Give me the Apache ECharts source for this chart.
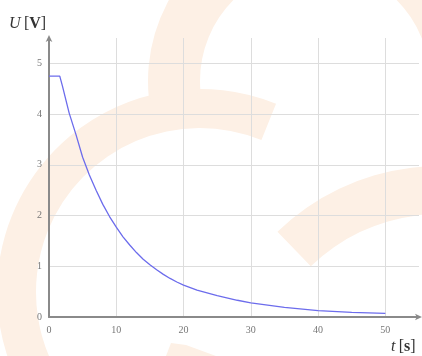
<!DOCTYPE html>
<html>
<head>
<meta charset="utf-8">
<script src="https://cdn.jsdelivr.net/npm/echarts@6/dist/echarts.min.js"></script>
<style>html,body{margin:0;padding:0;background:#fff}#c{width:422px;height:356px}</style>
</head>
<body>
<div id="c"></div>
<script>
// time values t [s]
var tValues = [0, 1.6, 2, 3, 4, 5, 6, 7, 8, 9, 10, 11, 12, 13, 14, 15, 16, 17, 18, 19, 20, 22, 25, 28, 30, 35, 40, 45, 50];
// voltage values U [V]
var uValues = [4.75, 4.75, 4.55, 4.02, 3.6, 3.15, 2.8, 2.5, 2.22, 1.98, 1.77, 1.58, 1.42, 1.27, 1.14, 1.03, 0.93, 0.84, 0.76, 0.69, 0.63, 0.53, 0.42, 0.33, 0.28, 0.19, 0.124, 0.09, 0.07];
var xTicks = [0, 10, 20, 30, 40, 50];
var yTicks = [0, 1, 2, 3, 4, 5];

var data = tValues.map(function (t, i) { return [t, uValues[i]]; });
var serif = '"Liberation Serif", "DejaVu Serif", serif';
var wm = '#fdf0e5';
function rad(d) { return d * Math.PI / 180; }
var rich = {
  a: { fontFamily: serif, fontStyle: 'italic', fontSize: 16, fill: '#333' },
  b: { fontFamily: serif, fontSize: 16, fill: '#333' },
  c: { fontFamily: serif, fontSize: 16, fontWeight: 'bold', fill: '#333' }
};

var chart = echarts.init(document.getElementById('c'));
chart.setOption({
  animation: false,
  backgroundColor: '#fff',
  graphic: [
    { type: 'sector', silent: true, z: -10, shape: { cx: 200, cy: 292, r0: 164, r: 203, startAngle: rad(140), endAngle: rad(292) }, style: { fill: wm } },
    { type: 'sector', silent: true, z: -10, shape: { cx: 315, cy: 81, r0: 115, r: 167, startAngle: rad(174), endAngle: rad(360) }, style: { fill: wm } },
    { type: 'sector', silent: true, z: -10, shape: { cx: 440, cy: 400, r0: 186, r: 234, startAngle: rad(226), endAngle: rad(300) }, style: { fill: wm } },
    { type: 'polygon', silent: true, z: -10, shape: { points: [[166, 356], [171, 343], [186, 345], [216, 356]] }, style: { fill: wm } },
    { type: 'text', left: 9, top: 16, style: { rich: rich, text: '{a|U} {b|[}{c|V}{b|]}' } },
    { type: 'text', left: 391, top: 339, style: { rich: rich, text: '{a|t} {b|[}{c|s}{b|]}' } }
  ],
  grid: { left: 49, right: 3, top: 38, bottom: 39, containLabel: false },
  xAxis: {
    type: 'value', min: 0, max: 55, interval: 10,
    axisLine: { lineStyle: { color: '#8a8a8a', width: 2 }, symbol: ['none', 'arrow'], symbolSize: [5, 7], symbolOffset: [0, 3] },
    axisTick: { show: false },
    axisLabel: { color: '#777', fontFamily: serif, fontSize: 10, margin: 8, showMaxLabel: false,
      formatter: function (v) { return xTicks.indexOf(v) >= 0 ? String(v) : ''; } },
    splitLine: { show: true, showMaxLine: false, lineStyle: { color: '#dddddd', width: 1 } }
  },
  yAxis: {
    type: 'value', min: 0, max: 5.5, interval: 1,
    axisLine: { show: true, lineStyle: { color: '#8a8a8a', width: 2 }, symbol: ['none', 'arrow'], symbolSize: [5, 7], symbolOffset: [0, 3] },
    axisTick: { show: false },
    axisLabel: { color: '#777', fontFamily: serif, fontSize: 10, margin: 7, showMaxLabel: false,
      formatter: function (v) { return yTicks.indexOf(v) >= 0 ? String(v) : ''; } },
    splitLine: { show: true, showMaxLine: false, lineStyle: { color: '#dddddd', width: 1 } }
  },
  series: [{
    type: 'line', data: data, showSymbol: false, symbol: 'none',
    lineStyle: { color: '#6c6cec', width: 1.3 }
  }]
});
</script>
</body>
</html>
